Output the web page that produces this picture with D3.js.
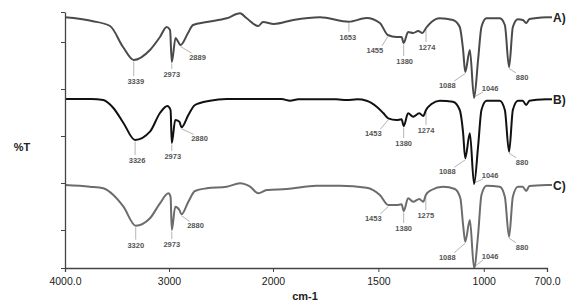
<!DOCTYPE html>
<html>
<head>
<meta charset="utf-8">
<script src="https://cdn.jsdelivr.net/npm/d3@7"></script>
<style>
  body { margin: 0; background: #fff; }
  text { font-family: "Liberation Sans", Arial, sans-serif; }
</style>
</head>
<body>
<div id="chart"></div>
<script>
"use strict"

// wavenumber (cm-1), %T (arbitrary offset units)
let traceA = [
  [4000, 250.7], [3740, 247], [3567, 242], [3442, 221], [3339, 208], [3183, 218],
  [3087, 231], [3022, 241], [2990, 238], [2973, 206], [2937, 230], [2911, 226],
  [2889, 223], [2817, 235], [2769, 243], [2637, 246], [2445, 249.7], [2317, 254.7],
  [2253, 249.7], [2141, 242], [2096, 246], [1996, 244], [1904, 248], [1777, 250.7],
  [1640, 246.3], [1556, 250], [1493, 245], [1455, 233], [1414, 231], [1390, 231],
  [1380, 225], [1359, 236], [1335, 235], [1311, 237], [1291, 235], [1274, 240],
  [1248, 246], [1209, 249.7], [1146, 248], [1114, 241], [1098, 218], [1088, 196],
  [1066, 218], [1046, 170], [1027, 208], [1011, 241], [987, 249.7], [924, 249.7],
  [900, 243], [880, 201], [862, 241], [838, 248.7], [815, 248], [799, 245],
  [783, 249], [700, 250.7]
];
let traceB = [
  [4000, 169], [3750, 169], [3632, 168], [3535, 160], [3438, 145], [3326, 128],
  [3183, 136.3], [3087, 155], [3016, 162], [2985, 158], [2973, 125], [2940, 148],
  [2900, 146.3], [2880, 140.7], [2814, 153], [2750, 163], [2606, 167.3], [2445, 169],
  [2100, 169], [1960, 169], [1919, 167.3], [1880, 168.7], [1700, 168.7], [1651, 168],
  [1600, 168.7], [1556, 167.3], [1508, 161.3], [1477, 155], [1453, 149.7], [1414, 148],
  [1390, 148.7], [1380, 142], [1359, 154.7], [1335, 151.3], [1306, 154.7], [1287, 152],
  [1274, 158], [1248, 164], [1209, 167.3], [1146, 166.3], [1114, 158], [1098, 135],
  [1088, 109.7], [1066, 134.7], [1046, 84], [1027, 121.3], [1011, 158], [987, 167.3],
  [924, 167.3], [900, 158], [880, 116.3], [862, 158], [838, 167.3], [815, 167.3],
  [799, 163], [783, 167.3], [700, 168.7]
];
let traceC = [
  [4000, 83], [3760, 81.3], [3632, 79.7], [3535, 73], [3438, 61.3], [3320, 42.3],
  [3183, 49.7], [3087, 64.7], [3006, 74.7], [2985, 71.3], [2973, 38], [2940, 61.3],
  [2900, 58], [2880, 53.7], [2814, 66.3], [2750, 77], [2637, 79.7], [2445, 81.3],
  [2317, 84.7], [2220, 81.3], [2141, 74.7], [2060, 78], [1935, 79], [1793, 82.3],
  [1682, 82.3], [1556, 80.3], [1493, 73], [1453, 63], [1414, 63], [1390, 63.7],
  [1380, 57], [1359, 69.7], [1335, 66.3], [1306, 69], [1287, 66.3], [1275, 73],
  [1248, 78], [1193, 81.3], [1137, 79], [1111, 69.7], [1098, 43], [1088, 26.3],
  [1066, 48], [1046, 0], [1027, 33], [1011, 73], [987, 82.3], [924, 81.3],
  [900, 71.3], [880, 31.3], [862, 71.3], [838, 81.3], [815, 81.3], [799, 77],
  [783, 82], [700, 83]
];

let seriesNames = ["A)", "B)", "C)"];

// peak labels: [text, wavenumber of the band]
let peaksA = [["3339", 3339], ["2973", 2973], ["2889", 2889], ["1653", 1640], ["1455", 1455],
  ["1380", 1380], ["1274", 1274], ["1088", 1088], ["1046", 1046], ["880", 880]];
let peaksB = [["3326", 3326], ["2973", 2973], ["2880", 2880], ["1453", 1453], ["1380", 1380],
  ["1274", 1274], ["1088", 1088], ["1046", 1046], ["880", 880]];
let peaksC = [["3320", 3320], ["2973", 2973], ["2880", 2880], ["1453", 1453], ["1380", 1380],
  ["1275", 1275], ["1088", 1088], ["1046", 1046], ["880", 880]];

let xTicks = [4000, 3000, 2000, 1500, 1000, 700];
let yTicks = [0, 38, 85, 132, 179, 226, 256];

// label placement: [kind, dx, dy] relative to the band minimum
let layoutA = [["down", 2, 24], ["down", 0, 15], ["right", 17, 15], ["down", -1, 18], ["left", -13, 18],
  ["down", 1, 21], ["down", 1, 22], ["left", -18, 16], ["up", 16, -7], ["right", 13, 13]];
let layoutB = [["down", 2, 23], ["down", 1, 16], ["right", 18, 14], ["left", -15, 18], ["down", 0, 20],
  ["down", 0, 23], ["left", -18, 16], ["up", 16, -6], ["right", 13, 13]];
let layoutC = [["down", 0, 22], ["down", 0, 17], ["right", 14, 14], ["left", -15, 16], ["down", 0, 20],
  ["down", 0, 23], ["left", -18, 18], ["up", 16, -9], ["right", 13, 13]];

let colors = ["#4a4a4a", "#111111", "#6c6c6c"];

init();

function init()
{
  let width = 580;
  let height = 307;

  // FTIR style axis: 2x expansion below 2000 cm-1
  let x = d3.scaleLinear()
            .domain([4000, 2000, 700])
            .range([65, 273, 547]);
  let y = d3.scaleLinear()
            .domain([0, 256])
            .range([268, 12]);

  let svg = d3.select("#chart").append("svg")
              .attr("width", width)
              .attr("height", height);

  let line = d3.line()
               .x(d => x(d[0]))
               .y(d => y(d[1]))
               .curve(d3.curveMonotoneX);

  let traces = [traceA, traceB, traceC];
  let peaks = [peaksA, peaksB, peaksC];
  let layouts = [layoutA, layoutB, layoutC];

  // peak labels and leaders
  traces.forEach(function(tr, i) {
    let g = svg.append("g");
    peaks[i].forEach(function(p, j) {
      let pt = tr.reduce((a, b) => Math.abs(b[0] - p[1]) < Math.abs(a[0] - p[1]) ? b : a);
      let ax = x(p[1]);
      let ay = y(pt[1]);
      let lay = layouts[i][j];
      let kind = lay[0], dx = lay[1], dy = lay[2];
      let lx, ly;
      if (kind === "down") { lx = 0; ly = dy - 8; }
      else if (kind === "right") { lx = dx - 6; ly = dy - 7; }
      else if (kind === "left") { lx = dx + 7; ly = dy - 7; }
      else { lx = dx - 7; ly = dy + 1; }
      let sy = kind === "up" ? -1 : 1.5;
      g.append("line")
       .attr("x1", ax).attr("y1", ay + sy)
       .attr("x2", ax + lx).attr("y2", ay + ly)
       .attr("stroke", "#b4b4b4")
       .attr("stroke-width", 1);
      g.append("text")
       .attr("x", ax + dx)
       .attr("y", ay + dy)
       .attr("text-anchor", "middle")
       .attr("font-size", "7.5px")
       .attr("font-weight", "bold")
       .attr("fill", "#555")
       .text(p[0]);
    });
  });

  // spectra
  traces.forEach(function(tr, i) {
    svg.append("path")
       .datum(tr)
       .attr("fill", "none")
       .attr("stroke", colors[i])
       .attr("stroke-width", 2)
       .attr("stroke-linejoin", "round")
       .attr("d", line);
    let last = tr[tr.length - 1];
    svg.append("line")
       .attr("x1", x(last[0])).attr("y1", y(last[1]))
       .attr("x2", x(last[0]) + 5).attr("y2", y(last[1]))
       .attr("stroke", colors[i])
       .attr("stroke-width", 2);
    svg.append("text")
       .attr("x", x(last[0]) + 6)
       .attr("y", y(last[1]) + 4.5)
       .attr("font-size", "12px")
       .attr("font-weight", "bold")
       .attr("fill", "#222")
       .text(seriesNames[i]);
  });

  // axes
  let xAxis = svg.append("g")
                 .attr("transform", "translate(0," + 268 + ")")
                 .call(d3.axisBottom(x)
                 .tickValues(xTicks)
                 .tickSize(4)
                 .tickPadding(6)
                 .tickFormat(d => (d === 4000 || d === 700) ? d.toFixed(1) : d));
  xAxis.select(".domain").attr("stroke", "#444").attr("stroke-width", 1.3);
  xAxis.selectAll(".tick line").attr("stroke", "#444");
  xAxis.selectAll(".tick text")
       .attr("font-size", "10.5px")
       .attr("font-family", "Liberation Sans, Arial, sans-serif")
       .attr("fill", "#222");

  let yAxis = svg.append("g")
                 .attr("transform", "translate(" + 65 + ",0)")
                 .call(d3.axisLeft(y)
                 .tickValues(yTicks)
                 .tickSize(4)
                 .tickSizeOuter(0)
                 .tickFormat(""));
  yAxis.select(".domain").attr("stroke", "#444").attr("stroke-width", 1.3);
  yAxis.selectAll(".tick line").attr("stroke", "#444");

  svg.append("text")
     .attr("x", 22)
     .attr("y", 151)
     .attr("text-anchor", "middle")
     .attr("font-size", "11px")
     .attr("font-weight", "bold")
     .attr("fill", "#222")
     .text("%T");

  svg.append("text")
     .attr("x", 305)
     .attr("y", 300)
     .attr("text-anchor", "middle")
     .attr("font-size", "11px")
     .attr("font-weight", "bold")
     .attr("fill", "#222")
     .text("cm-1");
}
</script>
</body>
</html>
